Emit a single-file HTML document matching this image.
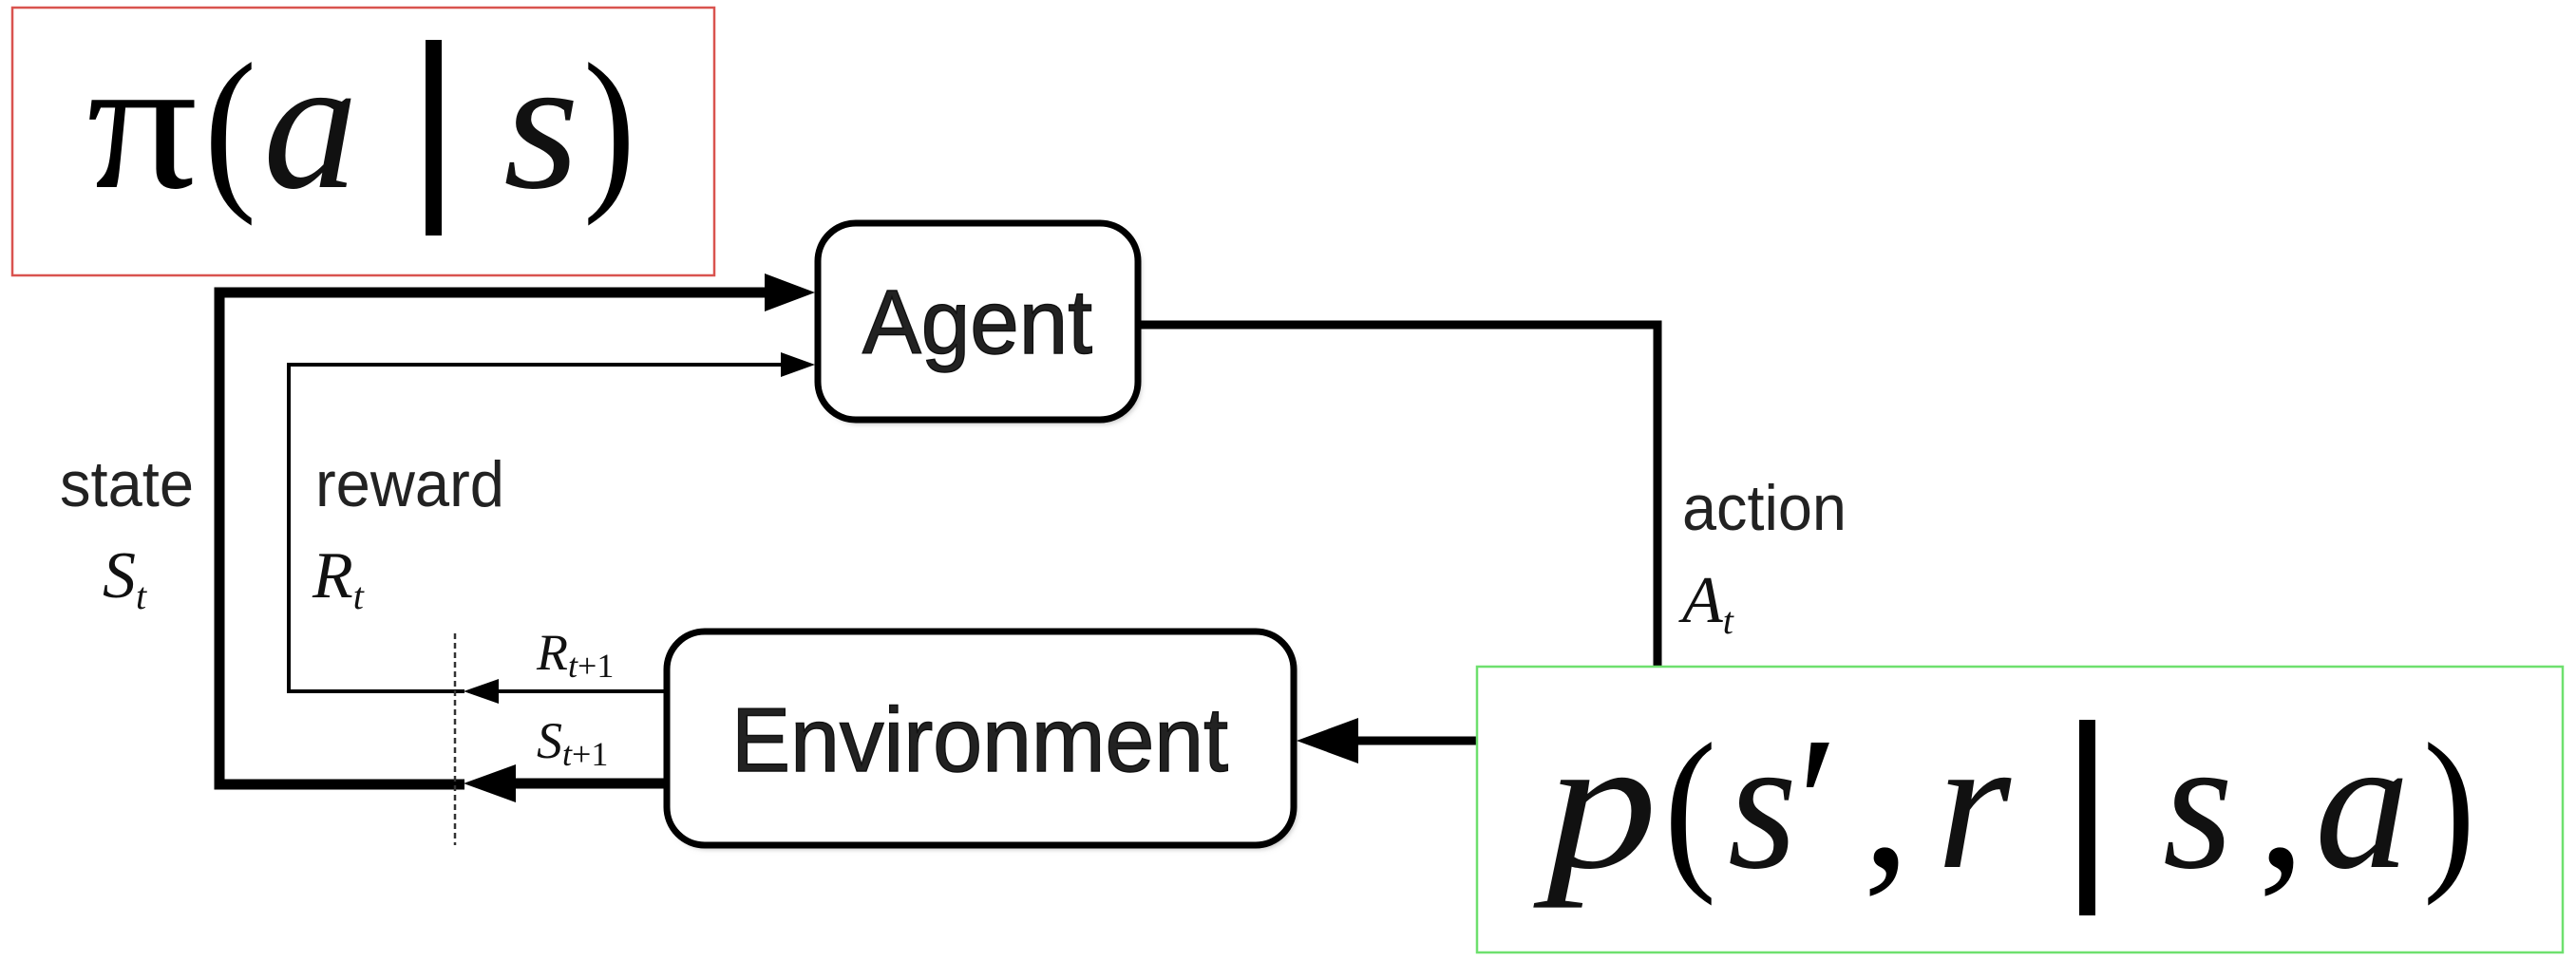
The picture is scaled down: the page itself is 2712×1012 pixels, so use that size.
<!DOCTYPE html>
<html><head><meta charset="utf-8"><style>
html,body{margin:0;padding:0;background:#fff;}
svg{display:block;}
.h{font-family:"Liberation Sans",Arial,sans-serif;fill:#222;}
.t{font-family:"Liberation Serif","Times New Roman",serif;font-style:italic;fill:#111;}
.m{font-family:"Liberation Serif","Times New Roman",serif;fill:#000;}
</style></head><body>
<svg width="2712" height="1012" viewBox="0 0 2712 1012" xmlns="http://www.w3.org/2000/svg">
<defs><filter id="sh" x="-10%" y="-10%" width="120%" height="130%"><feGaussianBlur stdDeviation="3"/></filter></defs>
<!-- red box -->
<rect x="13" y="8" width="739" height="282" fill="none" stroke="#d9534f" stroke-width="2.5"/>
<text class="m" x="91" y="197" font-size="200" textLength="117" lengthAdjust="spacingAndGlyphs">π</text>
<text class="m" x="215" y="197" font-size="190" textLength="55" lengthAdjust="spacingAndGlyphs">(</text>
<text class="t" x="277" y="197" font-size="200" textLength="100" lengthAdjust="spacingAndGlyphs">a</text>
<rect x="448" y="42" width="17" height="206" fill="#000"/>
<text class="t" x="530" y="197" font-size="200" textLength="80" lengthAdjust="spacingAndGlyphs">s</text>
<text class="m" x="614" y="197" font-size="190" textLength="55" lengthAdjust="spacingAndGlyphs">)</text>

<!-- state loop -->
<polyline points="840,308 231,308 231,826 489,826" fill="none" stroke="#000" stroke-width="11"/>
<polygon points="858,308 805,288 805,328" fill="#000"/>
<!-- reward loop -->
<polyline points="840,384 304,384 304,728 489,728" fill="none" stroke="#000" stroke-width="4"/>
<polygon points="858,384 822,371 822,397" fill="#000"/>
<!-- dashed -->
<line x1="479" y1="667" x2="479" y2="890" stroke="#333" stroke-width="2.5" stroke-dasharray="6,4"/>
<!-- R_{t+1} arrow -->
<line x1="520" y1="728" x2="702" y2="728" stroke="#000" stroke-width="4"/>
<polygon points="488,728 525,715 525,741" fill="#000"/>
<!-- S_{t+1} arrow -->
<line x1="535" y1="825" x2="702" y2="825" stroke="#000" stroke-width="11"/>
<polygon points="488,825 543,805 543,845" fill="#000"/>

<!-- Agent box -->
<rect x="864" y="239" width="337" height="207" rx="40" fill="#bbb" filter="url(#sh)"/>
<rect x="861" y="235" width="337" height="207" rx="40" fill="#fff" stroke="#000" stroke-width="7"/>
<text class="h" x="908" y="372" font-size="96" fill="#111" stroke="#111" stroke-width="1.5" textLength="242" lengthAdjust="spacingAndGlyphs">Agent</text>
<!-- action line -->
<polyline points="1198,342 1745,342 1745,702" fill="none" stroke="#000" stroke-width="9"/>

<!-- Environment box -->
<rect x="705" y="669" width="660" height="225" rx="40" fill="#bbb" filter="url(#sh)"/>
<rect x="702" y="665" width="660" height="225" rx="40" fill="#fff" stroke="#000" stroke-width="7"/>
<text class="h" x="770" y="812" font-size="96" fill="#111" stroke="#111" stroke-width="1.5" textLength="523" lengthAdjust="spacingAndGlyphs">Environment</text>
<!-- env arrow -->
<line x1="1420" y1="780" x2="1555" y2="780" stroke="#000" stroke-width="9"/>
<polygon points="1365,780 1430,756 1430,804" fill="#000"/>

<!-- labels -->
<text class="h" x="63" y="533" font-size="68" textLength="141" lengthAdjust="spacingAndGlyphs">state</text>
<text class="t" x="108" y="629" font-size="70" fill="#333">S<tspan font-size="40" dy="12">t</tspan></text>
<text class="h" x="332" y="533" font-size="68" textLength="199" lengthAdjust="spacingAndGlyphs">reward</text>
<text class="t" x="329" y="629" font-size="70" fill="#333">R<tspan font-size="40" dy="12">t</tspan></text>
<text class="t" x="565" y="705" font-size="54" fill="#333">R<tspan font-size="36" dy="8" font-style="italic">t</tspan><tspan font-size="36" font-style="normal">+1</tspan></text>
<text class="t" x="565" y="798" font-size="54" fill="#333">S<tspan font-size="36" dy="8">t</tspan><tspan font-size="36" font-style="normal">+1</tspan></text>
<text class="h" x="1771" y="558" font-size="68" textLength="173" lengthAdjust="spacingAndGlyphs">action</text>
<text class="t" x="1771" y="655" font-size="70" fill="#333">A<tspan font-size="40" dy="12">t</tspan></text>

<!-- green box -->
<rect x="1555" y="702" width="1143" height="301" fill="#fff" stroke="#6ee06e" stroke-width="2.5"/>
<text class="t" x="1628" y="913" font-size="200" textLength="117" lengthAdjust="spacingAndGlyphs">p</text>
<text class="m" x="1752" y="913" font-size="190" textLength="55" lengthAdjust="spacingAndGlyphs">(</text>
<text class="t" x="1819" y="913" font-size="200" textLength="73" lengthAdjust="spacingAndGlyphs">s</text>
<text class="m" x="1892" y="913" font-size="200">′</text>
<text class="m" x="1961" y="913" font-size="200">,</text>
<text class="t" x="2039" y="913" font-size="200" textLength="78" lengthAdjust="spacingAndGlyphs">r</text>
<rect x="2189" y="758" width="17" height="206" fill="#000"/>
<text class="t" x="2277" y="913" font-size="200" textLength="74" lengthAdjust="spacingAndGlyphs">s</text>
<text class="m" x="2377" y="913" font-size="200">,</text>
<text class="t" x="2437" y="913" font-size="200" textLength="100" lengthAdjust="spacingAndGlyphs">a</text>
<text class="m" x="2551" y="913" font-size="190" textLength="55" lengthAdjust="spacingAndGlyphs">)</text>
</svg>
</body></html>
